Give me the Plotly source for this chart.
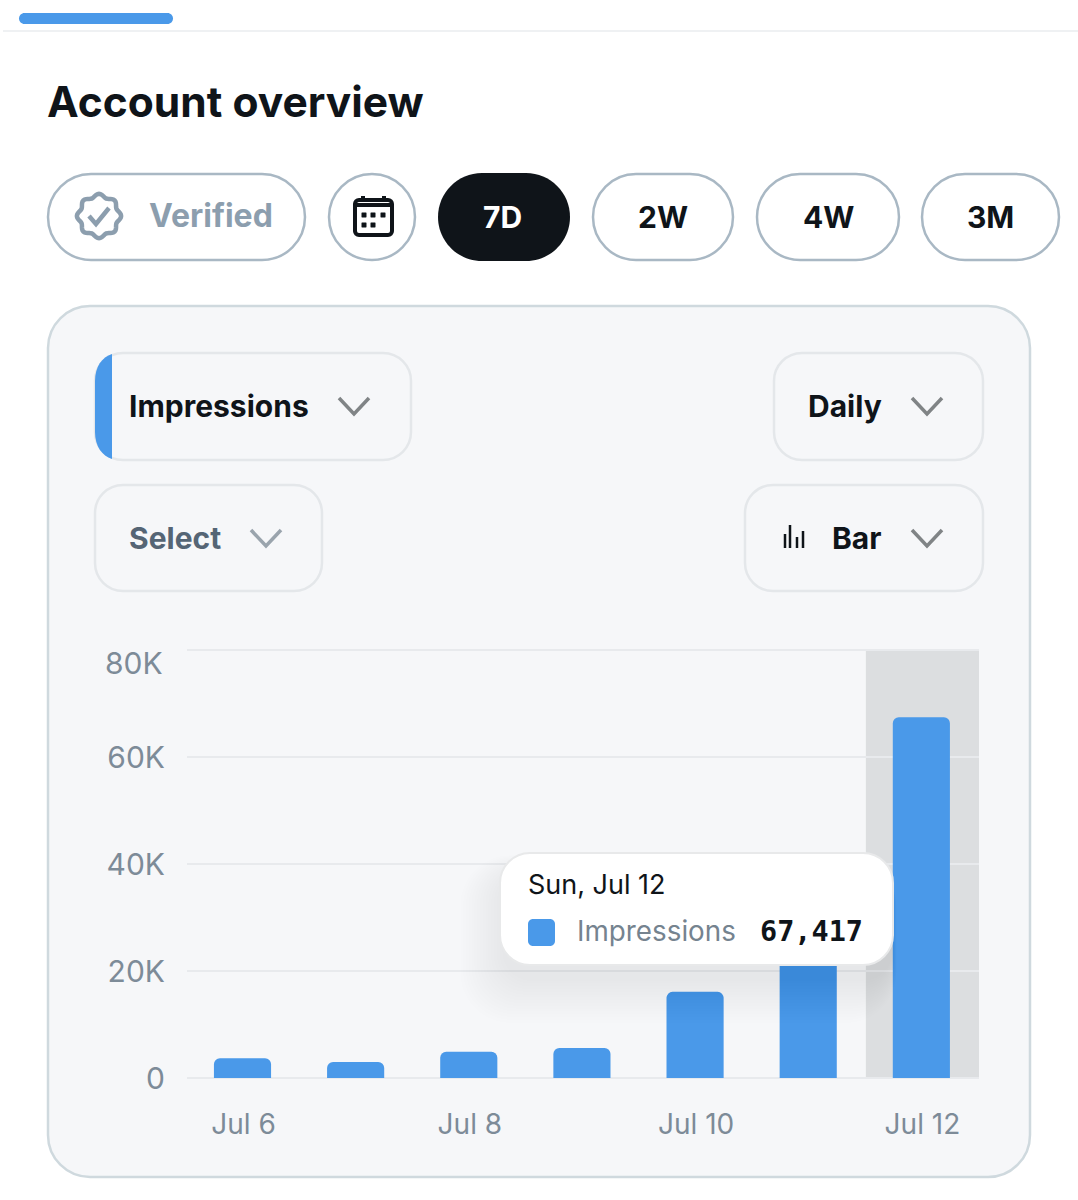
import math
import plotly.graph_objects as go

# ---- data ----
categories = ["Jul 6", "Jul 7", "Jul 8", "Jul 9", "Jul 10", "Jul 11", "Jul 12"]
impressions = [3700, 3000, 4900, 5600, 16100, 24000, 67417]
y_ticks = [0, 20000, 40000, 60000, 80000]
y_tick_labels = ["0", "20K", "40K", "60K", "80K"]
x_ticks = ["Jul 6", "Jul 8", "Jul 10", "Jul 12"]
highlighted = "Jul 12"

W, H = 1078, 1200
FONT = "Inter"
BLUE = "#4a99e9"
INK = "#0f1419"
PILL = "#a9b8c4"
SOFT = "#e4e7ea"
TICK = "#7d8b98"
PAD = 400  # small y-range padding so the grid lines at both ends are kept
PX_PER_UNIT = 107 / 20000
KAPPA = 0.4477  # control-point inset for a circular corner


def X(v):
    return v / W


def Y(v):
    return 1 - v / H


def pt(x, y):
    return f"{X(x):.5f},{Y(y):.5f}"


def rr(x0, y0, x1, y1, r):
    c = r * KAPPA
    return (
        f"M{pt(x0 + r, y0)} L{pt(x1 - r, y0)} C{pt(x1 - c, y0)} {pt(x1, y0 + c)} {pt(x1, y0 + r)} "
        f"L{pt(x1, y1 - r)} C{pt(x1, y1 - c)} {pt(x1 - c, y1)} {pt(x1 - r, y1)} "
        f"L{pt(x0 + r, y1)} C{pt(x0 + c, y1)} {pt(x0, y1 - c)} {pt(x0, y1 - r)} "
        f"L{pt(x0, y0 + r)} C{pt(x0, y0 + c)} {pt(x0 + c, y0)} {pt(x0 + r, y0)} Z"
    )


shapes = []


def box(x0, y0, x1, y1, r, fill="rgba(0,0,0,0)", line=None, lw=0, layer="below", opacity=1):
    shapes.append(dict(type="path", xref="paper", yref="paper", path=rr(x0, y0, x1, y1, r),
                       fillcolor=fill, line=dict(color=line or "rgba(0,0,0,0)", width=lw),
                       layer=layer, opacity=opacity))


def stroke(points, color, lw, layer="below", close=False):
    p = "M" + " L".join(pt(a, b) for a, b in points) + (" Z" if close else "")
    shapes.append(dict(type="path", xref="paper", yref="paper", path=p,
                       line=dict(color=color, width=lw), layer=layer))


def chevron(cx, cy, color):
    stroke([(cx - 15, cy - 8), (cx, cy + 8), (cx + 15, cy - 8)], color, 3.5)


anns = []


def text(s, x, y, size, color, weight=400, anchor="left", family=FONT):
    anns.append(dict(text=s, xref="paper", yref="paper", x=X(x), y=Y(y), xanchor=anchor,
                     yanchor="middle", showarrow=False, borderpad=0,
                     font=dict(family=family, size=size, color=color, weight=weight)))


# top tab indicator and divider
stroke([(3, 31), (1078, 31)], "#eff1f3", 2)
box(19, 13, 173, 24, 5.5, fill=BLUE)
text("Account overview", 46, 102, 42.5, INK, 700)

# filter pills
box(48, 174, 305, 260, 43, line=PILL, lw=2.5)
badge = []
for i in range(97):
    t = 2 * math.pi * i / 96
    rad = 20.5 + 1.6 * math.cos(8 * t)
    badge.append((99 + rad * math.cos(t), 216 + rad * math.sin(t)))
stroke(badge, "#8c9eae", 4.5, close=True)
stroke([(89, 216), (96, 224), (109, 208)], "#8c9eae", 4.5)
text("Verified", 147.5, 216, 32, "#8c9eae", 700)

box(329, 174, 415, 260, 43, line=PILL, lw=2.5)
box(355, 200, 392, 235, 4, line=INK, lw=4)
stroke([(356, 205), (391, 205)], INK, 4)
stroke([(363, 196), (363, 202)], INK, 4)
stroke([(384, 196), (384, 202)], INK, 4)
for dx, dy in [(364, 215), (373, 215), (383, 215), (364, 225), (373, 225)]:
    box(dx - 2.5, dy - 2.5, dx + 2.5, dy + 2.5, 0.5, fill=INK)

box(438, 173, 570, 261, 44, fill=INK)
text("7D", 503, 217, 30, "#ffffff", 700, "center")
for x0, x1, lab in [(593, 733, "2W"), (757, 899, "4W"), (922, 1059, "3M")]:
    box(x0, 174, x1, 260, 43, line=PILL, lw=2.5)
    text(lab, (x0 + x1) / 2, 217, 30, INK, 700, "center")

# chart panel
box(48, 306, 1030, 1177, 42, fill="#f6f7f9", line="#cfd9de", lw=2.5)

# dropdowns
box(95, 353, 411, 460, 28, line=SOFT, lw=2.5)
shapes.append(dict(type="path", xref="paper", yref="paper", layer="below",
                   path=f"M{pt(112, 354)} L{pt(112, 459)} C{pt(102, 456)} {pt(95, 446)} {pt(95, 432)} "
                        f"L{pt(95, 381)} C{pt(95, 367)} {pt(102, 357)} {pt(112, 354)} Z",
                   fillcolor=BLUE, line=dict(width=0)))
text("Impressions", 128, 406, 30, INK, 700)
chevron(354, 406, "#808486")

box(774, 353, 983, 460, 28, line=SOFT, lw=2.5)
text("Daily", 807, 406, 30, INK, 700)
chevron(927, 406, "#808486")

box(95, 485, 322, 591, 28, line=SOFT, lw=2.5)
text("Select", 128, 538, 30, "#556575", 700)
chevron(266, 538, "#9aa4ad")

box(745, 485, 983, 591, 28, line=SOFT, lw=2.5)
for bx, top in [(785, 534), (790, 525), (797, 537), (803, 531)]:
    stroke([(bx, top), (bx, 548)], INK, 2.5)
text("Bar", 831, 538, 30, INK, 700)
chevron(927, 538, "#808486")

# top tick label sits lower than its grid line in the reference
text(y_tick_labels[-1], 164, 663, 30, TICK, 400, "right")

# highlighted category band, in data coordinates
hi = categories.index(highlighted)
shapes.append(dict(type="rect", xref="x", yref="y", x0=hi - 0.5, x1=hi + 0.5,
                   y0=y_ticks[0], y1=y_ticks[-1], fillcolor="#dcdee0",
                   line=dict(width=0), layer="below"))

# tooltip shadow + body
for k in range(16):
    g = 40 - k * 2.8
    box(500 - g, 853 + 18 - g * 0.4, 893 + g * 0.1, 965 + 18 + g, 30 + g * 0.5, fill="#000000",
        layer="above", opacity=0.005)
box(500, 853, 893, 965, 30, fill="#ffffff", line="#e8e9ea", lw=2, layer="above")
box(528, 919, 555, 946, 5, fill=BLUE, layer="above")
text("Sun, Jul 12", 527, 884, 27, INK)
text("Impressions", 576, 931, 27.8, "#75838f")
text(f"{impressions[hi]:,}", 759, 931, 28.5, INK, 600, family="DejaVu Sans Mono")

fig = go.Figure(go.Bar(x=categories, y=impressions, width=0.505, offset=-0.262,
                       marker=dict(color=BLUE, cornerradius=6, line=dict(width=0)),
                       hoverinfo="skip"))
fig.update_layout(
    width=W, height=H, margin=dict(l=0, r=0, t=0, b=0), autosize=False,
    paper_bgcolor="#ffffff", plot_bgcolor="rgba(0,0,0,0)", showlegend=False,
    shapes=shapes, annotations=anns,
    xaxis=dict(domain=[X(187), X(979)], type="category", categoryorder="array", automargin=False,
               categoryarray=categories, tickmode="array", tickvals=x_ticks, ticktext=x_ticks,
               showgrid=False, zeroline=False, showline=False, ticks="outside", ticklen=19,
               tickcolor="rgba(0,0,0,0)", tickfont=dict(family=FONT, size=28, color=TICK),
               fixedrange=True),
    yaxis=dict(domain=[Y(1078 + PAD * PX_PER_UNIT), Y(650 - PAD * PX_PER_UNIT)],
               range=[y_ticks[0] - PAD, y_ticks[-1] + PAD], automargin=False, tickmode="array",
               tickvals=y_ticks, ticktext=y_tick_labels[:-1] + [" "], showgrid=True,
               gridcolor="#e8eaed", gridwidth=2, zeroline=False, showline=False, ticks="outside",
               ticklen=15, tickcolor="rgba(0,0,0,0)",
               tickfont=dict(family=FONT, size=30, color=TICK), fixedrange=True),
)
fig.write_html("out.html", config=dict(displayModeBar=False),
               post_script="document.body.style.margin='0';document.body.style.overflow='hidden';")
